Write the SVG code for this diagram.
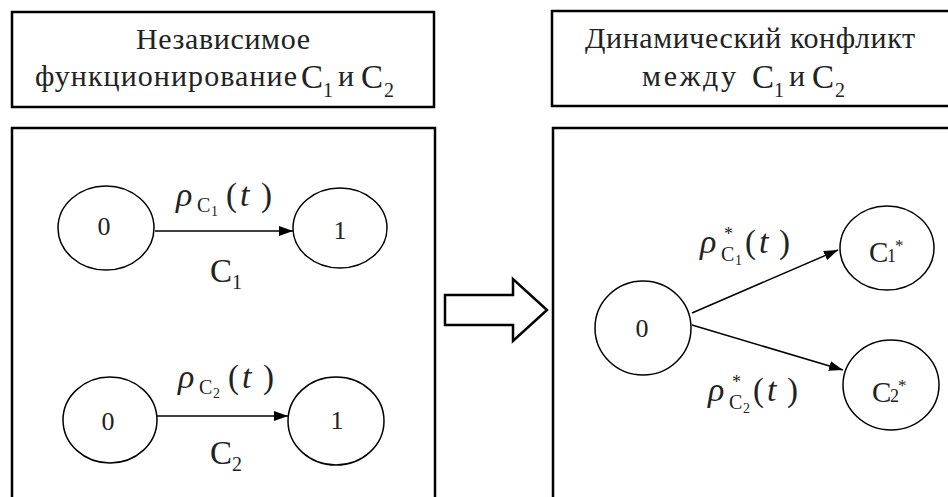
<svg xmlns="http://www.w3.org/2000/svg" width="948" height="497" viewBox="0 0 948 497">
<style>
.box{fill:#fff;stroke:#000;stroke-width:2.5}
.node{fill:#fff;stroke:#000;stroke-width:1.5}
.edge{fill:none;stroke:#000;stroke-width:1.5}
text{font-family:"Liberation Serif","Times New Roman",serif;fill:#222}
.t{font-size:30px}
.nl{font-size:26px;text-anchor:middle}
.m{font-size:33px}
.mi{font-size:34px;font-style:italic}
.s{font-size:20px}
.ss{font-size:14px}
.st{font-size:18px}
</style>
<defs>
<marker id="ah" viewBox="0 0 14 10" refX="14" refY="5" markerWidth="14" markerHeight="10" markerUnits="userSpaceOnUse" orient="auto">
<path d="M0,0 L14,5 L0,10 Z" fill="#000"/>
</marker>
</defs>
<rect width="948" height="497" fill="#fff"/>

<g id="title-left">
<rect class="box" x="12" y="12" width="422" height="95"/>
<text class="t" x="223" y="49" text-anchor="middle" textLength="174" lengthAdjust="spacing">Независимое</text>
<text class="t" x="35" y="86" textLength="262" lengthAdjust="spacing">функционирование</text>
<text class="m" x="301" y="88">C</text>
<text class="s" x="323" y="97">1</text>
<text class="t" x="338" y="86">и</text>
<text class="m" x="361" y="88">C</text>
<text class="s" x="384" y="97">2</text>
</g>

<g id="title-right">
<rect class="box" x="552" y="11" width="420" height="95"/>
<text class="t" x="750" y="48" text-anchor="middle" textLength="330" lengthAdjust="spacing">Динамический конфликт</text>
<text class="t" x="642" y="86" textLength="94" lengthAdjust="spacing">между</text>
<text class="m" x="752" y="88">C</text>
<text class="s" x="774" y="97">1</text>
<text class="t" x="789" y="86">и</text>
<text class="m" x="812" y="88">C</text>
<text class="s" x="835" y="97">2</text>
</g>

<g id="panel-left">
<rect class="box" x="12" y="128" width="423" height="390"/>
</g>
<g id="panel-right">
<rect class="box" x="553" y="128" width="420" height="390"/>
</g>

<g id="transition-arrow">
<polygon points="445,295 513,295 513,279 547,310 513,341 513,325 445,325" fill="#fff" stroke="#000" stroke-width="2.5" stroke-linejoin="miter"/>
</g>

<g id="n-a0"><ellipse class="node" cx="106" cy="228" rx="48" ry="42"/><text class="nl" x="104" y="235">0</text></g>
<g id="n-a1"><ellipse class="node" cx="340" cy="228" rx="47" ry="40"/><text class="nl" x="340" y="239">1</text></g>
<g id="n-b0"><ellipse class="node" cx="110" cy="420" rx="47" ry="43"/><text class="nl" x="108" y="430">0</text></g>
<g id="n-b1"><ellipse class="node" cx="336" cy="421" rx="48" ry="44"/><text class="nl" x="337" y="429">1</text></g>
<g id="n-c0"><ellipse class="node" cx="643" cy="328" rx="48" ry="47"/><text class="nl" x="642" y="337">0</text></g>
<g id="n-c1"><ellipse class="node" cx="887" cy="248" rx="47" ry="42"/>
<text x="869" y="262" font-size="29">C</text><text x="887" y="262" font-size="18">1</text><text x="895" y="251" font-size="17">*</text></g>
<g id="n-c2"><ellipse class="node" cx="891" cy="385" rx="48" ry="45"/>
<text x="872" y="402" font-size="29">C</text><text x="890" y="402" font-size="18">2</text><text x="898" y="391" font-size="17">*</text></g>

<g id="connectors">
<line class="edge" x1="155" y1="231" x2="293" y2="231" marker-end="url(#ah)"/>
<line class="edge" x1="157" y1="416" x2="288" y2="416" marker-end="url(#ah)"/>
<line class="edge" x1="692" y1="313" x2="838" y2="250" marker-end="url(#ah)"/>
<line class="edge" x1="692" y1="325" x2="843" y2="370" marker-end="url(#ah)"/>
</g>

<g id="label-a" transform="translate(176,206)">
<text class="mi" x="0" y="0">ρ</text><text class="s" x="21" y="6">C</text><text class="ss" x="35" y="10">1</text>
<text class="m" x="50" y="0">(</text><text class="mi" x="64" y="0">t</text><text class="m" x="85" y="0">)</text>
</g>
<g id="label-a2"><text class="m" x="210" y="282">C</text><text class="s" x="232" y="289">1</text></g>

<g id="label-b" transform="translate(178,388)">
<text class="mi" x="0" y="0">ρ</text><text class="s" x="21" y="6">C</text><text class="ss" x="35" y="10">2</text>
<text class="m" x="50" y="0">(</text><text class="mi" x="64" y="0">t</text><text class="m" x="85" y="0">)</text>
</g>
<g id="label-b2"><text class="m" x="210" y="464">C</text><text class="s" x="232" y="471">2</text></g>

<g id="label-c1" transform="translate(700,253)">
<text class="mi" x="0" y="0">ρ</text><text class="st" x="24" y="-13">*</text><text class="s" x="21" y="8">C</text><text class="ss" x="35" y="12">1</text>
<text class="m" x="45" y="0">(</text><text class="mi" x="59" y="0">t</text><text class="m" x="79" y="0">)</text>
</g>
<g id="label-c2" transform="translate(708,401)">
<text class="mi" x="0" y="0">ρ</text><text class="st" x="24" y="-13">*</text><text class="s" x="21" y="8">C</text><text class="ss" x="35" y="12">2</text>
<text class="m" x="45" y="0">(</text><text class="mi" x="59" y="0">t</text><text class="m" x="79" y="0">)</text>
</g>
</svg>
